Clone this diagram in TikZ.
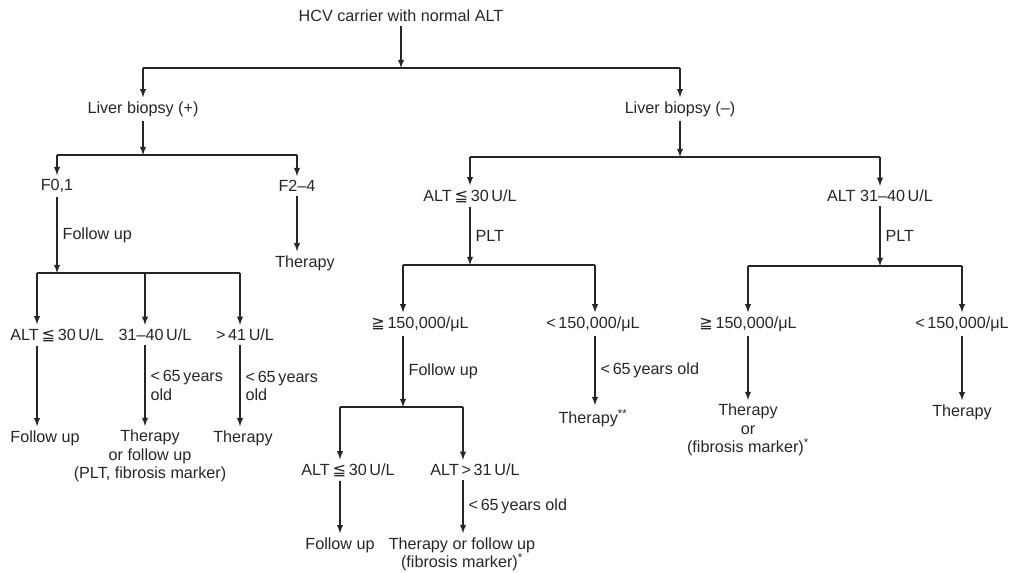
\documentclass[tikz,border=0pt]{standalone}
\usepackage{fontspec}
\setmainfont{Liberation Sans}
\newfontfamily\symfont{DejaVu Sans}
\usetikzlibrary{arrows, positioning}

\newcommand{\leqsym}{{\symfont ≦}}
\newcommand{\geqsym}{{\symfont ≧}}

\begin{document}
\begin{tikzpicture}
    \tikzset{
        node/.style = {inner sep=1pt, outer sep=2pt, align=center, text=black!85, font=\fontsize{11.5}{13}\selectfont},
        lbl/.style = {node, align=left, inner sep=2pt},
        line/.style = {draw=black!85, line width=1pt, -latex},
        bar/.style = {draw=black!85, line width=1pt},
        on grid
    }

    \useasboundingbox (0,0) rectangle (25.55,-14.325);

    \node[node](hcv) at (10.025,-0.4){HCV carrier with normal ALT};

    \node[node](lbp)[below left = 2.325cm and 6.45cm of hcv]{Liver biopsy (+)};
    \node[node](lbn)[below right = 2.325cm and 6.975cm of hcv]{Liver biopsy (–)};

    % biopsy (+)
    \node[node](f01)[below left = 1.925cm and 2.15cm of lbp]{F0,1};
    \node[node](f24)[below right = 1.925cm and 3.85cm of lbp]{F2–4};
    \node[node](thF)[below right = 1.925cm and 0.2cm of f24]{Therapy};

    \node[node](altA)[below = 3.725cm of f01]{ALT\,\leqsym\,30\,U/L};
    \node[node](altB)[right = 2.45cm of altA]{31–40\,U/L};
    \node[node](altC)[right = 2.25cm of altB]{>\,41\,U/L};

    \node[node](fuA)[below left = 2.575cm and 0.3cm of altA]{Follow up};
    \node[node](thB)[below left = 3.025cm and 0.125cm of altB]{Therapy\\or follow up\\(PLT, fibrosis marker)};
    \node[node](thC)[below left = 2.575cm and 0.05cm of altC]{Therapy};

    % biopsy (-)
    \node[node](altN1)[below left = 2.175cm and 5.25cm of lbn]{ALT\,\leqsym\,30\,U/L};
    \node[node](altN2)[below right = 2.175cm and 5.0cm of lbn]{ALT 31–40\,U/L};

    \node[node](plA)[below left = 3.2cm and 1.25cm of altN1]{\geqsym\,150,000/μL};
    \node[node](plB)[below right = 3.2cm and 3.075cm of altN1]{<\,150,000/μL};
    \node[node](plC)[below left = 3.2cm and 3.3cm of altN2]{\geqsym\,150,000/μL};
    \node[node](plD)[below right = 3.2cm and 2.05cm of altN2]{<\,150,000/μL};

    \node[node](altD)[below left = 3.65cm and 1.8cm of plA]{ALT\,\leqsym\,30\,U/L};
    \node[node](altE)[below right = 3.65cm and 1.375cm of plA]{ALT\,>\,31\,U/L};
    \node[node](fuD)[below left = 1.875cm and 0.2cm of altD]{Follow up};
    \node[node](thE)[below left = 2.1cm and 0.325cm of altE]{Therapy or follow up\\(fibrosis marker)\textsuperscript{*}};

    \node[node](thP)[below = 2.35cm of plB]{Therapy\textsuperscript{**}};
    \node[node](thG)[below = 2.65cm of plC]{Therapy\\or\\(fibrosis marker)\textsuperscript{*}};
    \node[node](thH)[below = 2.2cm of plD]{Therapy};

    % junctions
    \coordinate[below = 1.3cm of hcv](j1);
    \coordinate[below = 1.15cm of lbp](j2);
    \coordinate[below = 2.175cm of f01](j3);
    \coordinate[left = 0.5cm of j3](b3a);
    \coordinate[right = 2.2cm of j3](b3b);
    \coordinate[right = 4.575cm of j3](b3c);
    \coordinate[below = 1.2cm of lbn](j4);
    \coordinate[below = 1.725cm of altN1](j5);
    \coordinate[left = 1.675cm of j5](b5a);
    \coordinate[right = 3.125cm of j5](b5b);
    \coordinate[below = 1.75cm of altN2](j6);
    \coordinate[below = 3.55cm of b5a](j7);
    \coordinate[left = 1.575cm of j7](b7a);
    \coordinate[right = 1.5cm of j7](b7b);

    \path [line] (hcv) -- (j1);
    \path [bar] (j1 -| lbp) -- (j1 -| lbn);
    \path [line] (j1 -| lbp) -- (lbp);
    \path [line] (j1 -| lbn) -- (lbn);

    \path [line] (lbp) -- (j2);
    \path [bar] (j2 -| f01) -- (j2 -| f24);
    \path [line] (j2 -| f01) -- (f01);
    \path [line] (j2 -| f24) -- (f24);
    \path [line] (f24) -- (f24 |- thF.north);

    \path [line] (f01) -- node[lbl, right](fu1){Follow up} (j3);
    \path [bar] (b3a) -- (b3c);
    \path [line] (b3a) -- (b3a |- altA.north);
    \path [line] (b3b) -- (b3b |- altB.north);
    \path [line] (b3c) -- (b3c |- altC.north);
    \path [line] (altA.south -| b3a) -- (fuA.north -| b3a);
    \path [line] (altB.south -| b3b) -- node[lbl, right](age1){<\,65\,years\\old} (thB.north -| b3b);
    \path [line] (altC.south -| b3c) -- node[lbl, right](age2){<\,65\,years\\old} (thC.north -| b3c);

    \path [line] (lbn) -- (j4);
    \path [bar] (j4 -| altN1) -- (j4 -| altN2);
    \path [line] (j4 -| altN1) -- (altN1);
    \path [line] (j4 -| altN2) -- (altN2);

    \path [line] (altN1) -- node[lbl, right](plt1){PLT} (j5);
    \path [bar] (b5a) -- (b5b);
    \path [line] (b5a) -- (b5a |- plA.north);
    \path [line] (b5b) -- (b5b |- plB.north);

    \path [line] (altN2) -- node[lbl, right](plt2){PLT} (j6);
    \path [bar] (j6 -| plC) -- (j6 -| plD);
    \path [line] (j6 -| plC) -- (plC);
    \path [line] (j6 -| plD) -- (plD);

    \path [line] (plA.south -| b5a) -- node[lbl, right](fu2){Follow up} (j7);
    \path [bar] (b7a) -- (b7b);
    \path [line] (b7a) -- (b7a |- altD.north);
    \path [line] (b7b) -- (b7b |- altE.north);
    \path [line] (altD.south -| b7a) -- (fuD.north -| b7a);
    \path [line] (altE.south -| b7b) -- node[lbl, right](age3){<\,65\,years old} (thE.north -| b7b);

    \path [line] (plB.south -| b5b) -- node[lbl, right](age4){<\,65\,years old} (thP.north -| b5b);
    \path [line] (plC) -- (thG);
    \path [line] (plD) -- (thH);

\end{tikzpicture}
\end{document}
